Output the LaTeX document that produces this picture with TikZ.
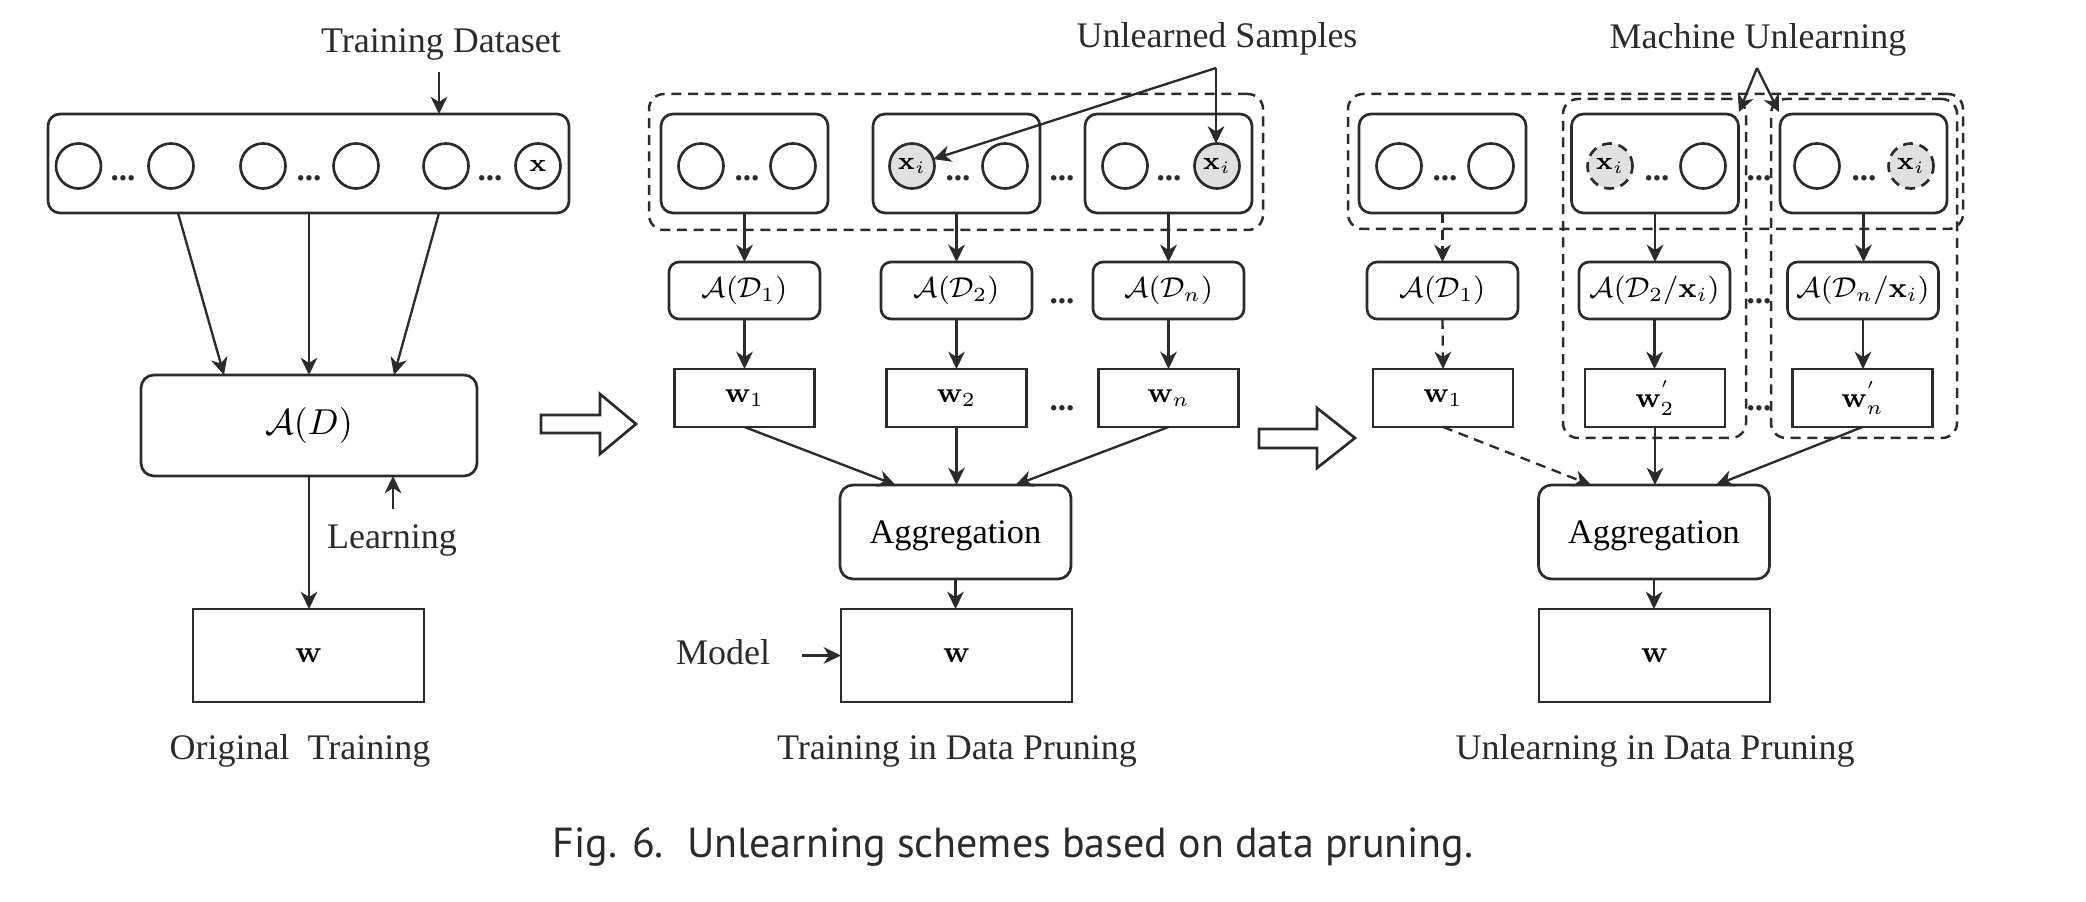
\RequirePackage{fix-cm}
\documentclass[tikz,border=0pt]{standalone}
\usepackage[no-math]{fontspec}
\setmainfont{Liberation Serif}
\newfontfamily\capfont{PT Sans}
\usetikzlibrary{arrows.meta,calc,fit}
\definecolor{ink}{HTML}{2B2B2B}
\definecolor{hitfill}{HTML}{E0E0E0}
\newcommand\lblfont{\fontsize{10.8}{13}\selectfont}
\newcommand\aggfont{\fontsize{10.3}{12}\selectfont}
\newcommand\smallmath{\fontsize{8.6}{10}\selectfont}
\newcommand\wfont{\fontsize{9.3}{11}\selectfont}
\newcommand\circfont{\fontsize{7.5}{9}\selectfont}
\newcommand\dotfont{\fontsize{10}{12}\selectfont\bfseries}
\newcommand\capsize{\fontsize{12.6}{15}\selectfont}
\begin{document}
\begin{tikzpicture}[x=0.3pt,y=-0.3pt,
  dashpat/.style={dash pattern=on 3pt off 2pt},
  outl/.style={draw=ink, line width=0.8pt, inner sep=0pt, outer sep=0pt},
  rbox/.style={outl, rounded corners=3.6pt},
  sbox/.style={outl},
  dsbox/.style={rbox, minimum width=156.3pt, minimum height=29.7pt},
  bbox/.style={rbox, minimum width=50.1pt, minimum height=29.7pt},
  abox/.style={rbox, rounded corners=3pt, minimum width=45.3pt, minimum height=17.1pt, font=\smallmath},
  wbox/.style={sbox, minimum width=42pt, minimum height=17.4pt, font=\smallmath},
  aggbox/.style={rbox, rounded corners=3.9pt, minimum width=69.3pt, minimum height=28.2pt, font=\aggfont, text depth=0pt},
  bigw/.style={sbox, minimum width=69.3pt, minimum height=27.9pt, font=\wfont},
  smp/.style={circle, outl, minimum size=13.5pt, font=\circfont},
  hit/.style={smp, fill=hitfill},
  ghost/.style={smp, fill=hitfill, dashpat},
  grp/.style={draw=ink, line width=0.75pt, dashpat, rounded corners=4.5pt, inner sep=0pt, outer sep=0pt},
  dots/.style={font=\dotfont, inner sep=0pt, anchor=base, text=ink},
  lbl/.style={font=\lblfont, inner sep=0pt, anchor=base, text=ink},
  arr/.style={draw=ink, line width=0.7pt, -{Stealth[length=5.2pt,width=5pt,inset=1.6pt]}},
  darr/.style={arr, dashpat},
  hollow/.style={draw=ink, line width=0.8pt, line join=miter}
]
\useasboundingbox (0,0) rectangle (2086,902);

% ===================== Left: Original Training =====================
\node[lbl] (tdl) at (441,53) {Training Dataset};
\coordinate (tdA) at (439,72);
\node[dsbox] (DS) at (308.5,163.5) {};
\node[smp] (d1) at (78.5,166) {};
\node[smp] (d2) at (171,166) {};
\node[smp] (d3) at (263,166) {};
\node[smp] (d4) at (356,166) {};
\node[smp] (d5) at (446,166) {};
\node[smp] (d6) at (538,166) {$\mathbf{x}$};
\node[dots] (dd1) at (123,181) {...};
\node[dots] (dd2) at (309,181) {...};
\node[dots] (dd3) at (490,181) {...};
\draw[arr] (tdA) -- (tdA |- DS.north);

\node[rbox, rounded corners=3.9pt, minimum width=100.8pt, minimum height=30.3pt, font=\lblfont] (AD) at (309,425.5) {$\mathcal{A}(D)$};
\draw[arr] ($(DS.south west)+(130,0)$) -- ($(AD.north west)+(83,0)$);
\draw[arr] (AD.north |- DS.south) -- (AD.north);
\draw[arr] ($(DS.south west)+(391,0)$) -- ($(AD.north west)+(253,0)$);

\coordinate (lrA) at (393,509);
\draw[arr] (lrA) -- (lrA |- AD.south);
\node[lbl] (lrn) at (392,549) {Learning};

\node[bigw] (W0) at (308.5,655.5) {$\mathbf{w}$};
\draw[arr] (AD.south) -- (AD.south |- W0.north);
\node[lbl] (ot) at (300,760) {Original\ \ Training};

% hollow arrow 1
\draw[hollow] (541,415) -- (600,415) -- (600,394) -- (636,424) -- (600,454) -- (600,433) -- (541,433) -- cycle;

% ===================== Middle: Training in Data Pruning =====================
\node[lbl] (usl) at (1217,48) {Unlearned Samples};
\coordinate (usA) at (1216,68);
\node[grp, fit={(649,94) (1263,230)}] (G1) {};
\node[bbox] (B1) at (744.5,163.5) {};
\node[bbox] (B2) at (956.5,163.5) {};
\node[bbox] (B3) at (1168.5,163.5) {};
\node[smp] (b11) at (701,166) {};
\node[smp] (b12) at (793,166) {};
\node[hit] (x2) at (912,166) {$\mathbf{x}_i$};
\node[smp] (b22) at (1005,166) {};
\node[smp] (b31) at (1125,166) {};
\node[hit] (x3) at (1217,166) {$\mathbf{x}_i$};
\node[dots] (bd1) at (747,181) {...};
\node[dots] (bd2) at (958,181) {...};
\node[dots] (bd3) at (1169,181) {...};
\node[dots] (bdm) at (1062,181) {...};
\draw[arr] (usA) -- (x2);
\draw[arr] (usA) -- (usA |- x3.north);

\node[abox] (A1) at (744.5,290.5) {$\mathcal{A}(\mathcal{D}_1)$};
\node[abox] (A2) at (956.5,290.5) {$\mathcal{A}(\mathcal{D}_2)$};
\node[abox] (A3) at (1168.5,290.5) {$\mathcal{A}(\mathcal{D}_n)$};
\node[dots] (ad) at (1062,304) {...};
\node[wbox] (w1) at (744.5,398) {$\mathbf{w}_1$};
\node[wbox] (w2) at (956.5,398) {$\mathbf{w}_2$};
\node[wbox] (w3) at (1168.5,398) {$\mathbf{w}_n$};
\node[dots] (wd) at (1062,411) {...};
\foreach \i in {1,2,3} {
  \draw[arr] (B\i.south) -- (A\i.north);
  \draw[arr] (A\i.south) -- (w\i.north);
}
\node[aggbox] (G) at (955.5,532) {Aggregation};
\draw[arr] (w1.south) -- ($(G.north)+(-60,0)$);
\draw[arr] (w2.south) -- (w2.south |- G.north);
\draw[arr] (w3.south) -- ($(G.north)+(60,0)$);
\node[bigw] (W) at (956.5,655.5) {$\mathbf{w}$};
\draw[arr] (G.south) -- (G.south |- W.north);
\node[lbl] (mdl) at (723,665) {Model};
\coordinate (mA) at (802,655.5);
\draw[arr] (mA) -- (mA -| W.west);
\node[lbl] (tdp) at (957,760) {Training in Data Pruning};

% hollow arrow 2
\draw[hollow] (1259,429) -- (1317,429) -- (1317,408) -- (1355,438) -- (1317,468) -- (1317,448) -- (1259,448) -- cycle;

% ===================== Right: Unlearning in Data Pruning =====================
\node[lbl] (mul) at (1758,49) {Machine Unlearning};
\coordinate (muA) at (1757,68);
\node[grp, fit={(1348,94) (1963,229)}] (H1) {};
\node[grp, fit={(1563,99) (1746,438)}] (GL) {};
\node[grp, fit={(1771,99) (1957,438)}] (GR) {};
\draw[arr] (muA) -- ($(GL.north east)+(-7,13)$);
\draw[arr] (muA) -- ($(GR.north west)+(8,13)$);

\node[bbox] (C1) at (1442.5,163.5) {};
\node[bbox] (C2) at (1655,163.5) {};
\node[bbox] (C3) at (1863.5,163.5) {};
\node[smp] (c11) at (1399,166) {};
\node[smp] (c12) at (1491,166) {};
\node[ghost] (y2) at (1610,166) {$\mathbf{x}_i$};
\node[smp] (c22) at (1703,166) {};
\node[smp] (c31) at (1817,166) {};
\node[ghost] (y3) at (1911,166) {$\mathbf{x}_i$};
\node[dots] (cd1) at (1445,181) {...};
\node[dots] (cd2) at (1657,181) {...};
\node[dots] (cd3) at (1864,181) {...};
\node[dots] (cdm) at (1759,181) {...};

\node[abox] (P1) at (1442.5,290.5) {$\mathcal{A}(\mathcal{D}_1)$};
\node[abox] (P2) at (1654.5,290.5) {$\mathcal{A}(\mathcal{D}_2/\mathbf{x}_i)$};
\node[abox] (P3) at (1863,290.5) {$\mathcal{A}(\mathcal{D}_n/\mathbf{x}_i)$};
\node[dots] (pd) at (1759,304) {...};
\node[wbox] (v1) at (1443,398) {$\mathbf{w}_1$};
\node[wbox] (v2) at (1655,398) {$\mathbf{w}^{'}_{2}$};
\node[wbox] (v3) at (1862.5,398) {$\mathbf{w}^{'}_{n}$};
\node[dots] (vd) at (1759,411) {...};
\draw[darr] (C1.south) -- (P1.north);
\draw[darr] (P1.south) -- (v1.north);
\draw[arr] (C2.south) -- (C2.south |- P2.north);
\draw[arr] (P2.south) -- (P2.south |- v2.north);
\draw[arr] (C3.south) -- (C3.south |- P3.north);
\draw[arr] (P3.south) -- (P3.south |- v3.north);

\node[aggbox] (K) at (1654,532) {Aggregation};
\draw[darr] (v1.south) -- ($(K.north)+(-63,0)$);
\draw[arr] (v2.south) -- (v2.south |- K.north);
\draw[arr] (v3.south) -- ($(K.north)+(62,0)$);
\node[bigw] (WW) at (1654.5,655.5) {$\mathbf{w}$};
\draw[arr] (K.south) -- (K.south |- WW.north);
\node[lbl] (udp) at (1655,760) {Unlearning in Data Pruning};

% ===================== Caption =====================
\node[inner sep=0pt, anchor=base, text=ink, font=\capfont\capsize] (cap) at (1013,857) {Fig. 6.\hspace{0.55em}Unlearning schemes based on data pruning.};
\end{tikzpicture}
\end{document}
